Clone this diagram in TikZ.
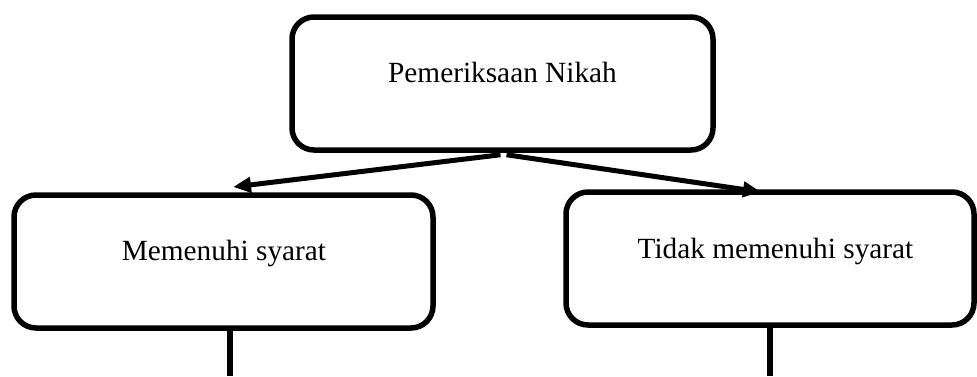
\documentclass[tikz,border=0pt]{standalone}
\usepackage{fontspec}
\setmainfont{Liberation Serif}
\usetikzlibrary{arrows.meta}
\begin{document}
\begin{tikzpicture}[x=1pt,y=-1pt,
  boxstyle/.style={draw=black, line width=5.5pt, rounded corners=22pt, inner sep=0pt, fill=white},
  labelstyle/.style={anchor=base, inner sep=0pt, font=\fontsize{29.3}{35}\selectfont},
  arr/.style={line width=5pt, -{Triangle[length=18pt,width=15pt]}},
  plain/.style={line width=5.5pt}]
\useasboundingbox (0,0) rectangle (977,376);
\node[boxstyle, minimum width=421pt, minimum height=133pt] (top) at (502.5,83.5) {};
\node[boxstyle, minimum width=419pt, minimum height=133pt] (left) at (223.5,261.5) {};
\node[boxstyle, minimum width=408pt, minimum height=133pt] (right) at (770,258.5) {};
\node[labelstyle] (toplbl) at (502.5,82) {Pemeriksaan Nikah};
\node[labelstyle] (leftlbl) at (224,260) {Memenuhi syarat};
\node[labelstyle] (rightlbl) at (775.5,258) {Tidak memenuhi syarat};
\coordinate (la) at (233,187);
\coordinate (ra) at (761,192);
\coordinate (lb) at (230,376);
\coordinate (rb) at (770,376);
\draw[arr] ([xshift=-2pt,yshift=-2pt]top.south) -- (la);
\draw[arr] ([xshift=4pt,yshift=-2pt]top.south) -- (ra);
\draw[plain] (lb |- left.south) -- (lb);
\draw[plain] (rb |- right.south) -- (rb);
\end{tikzpicture}
\end{document}
